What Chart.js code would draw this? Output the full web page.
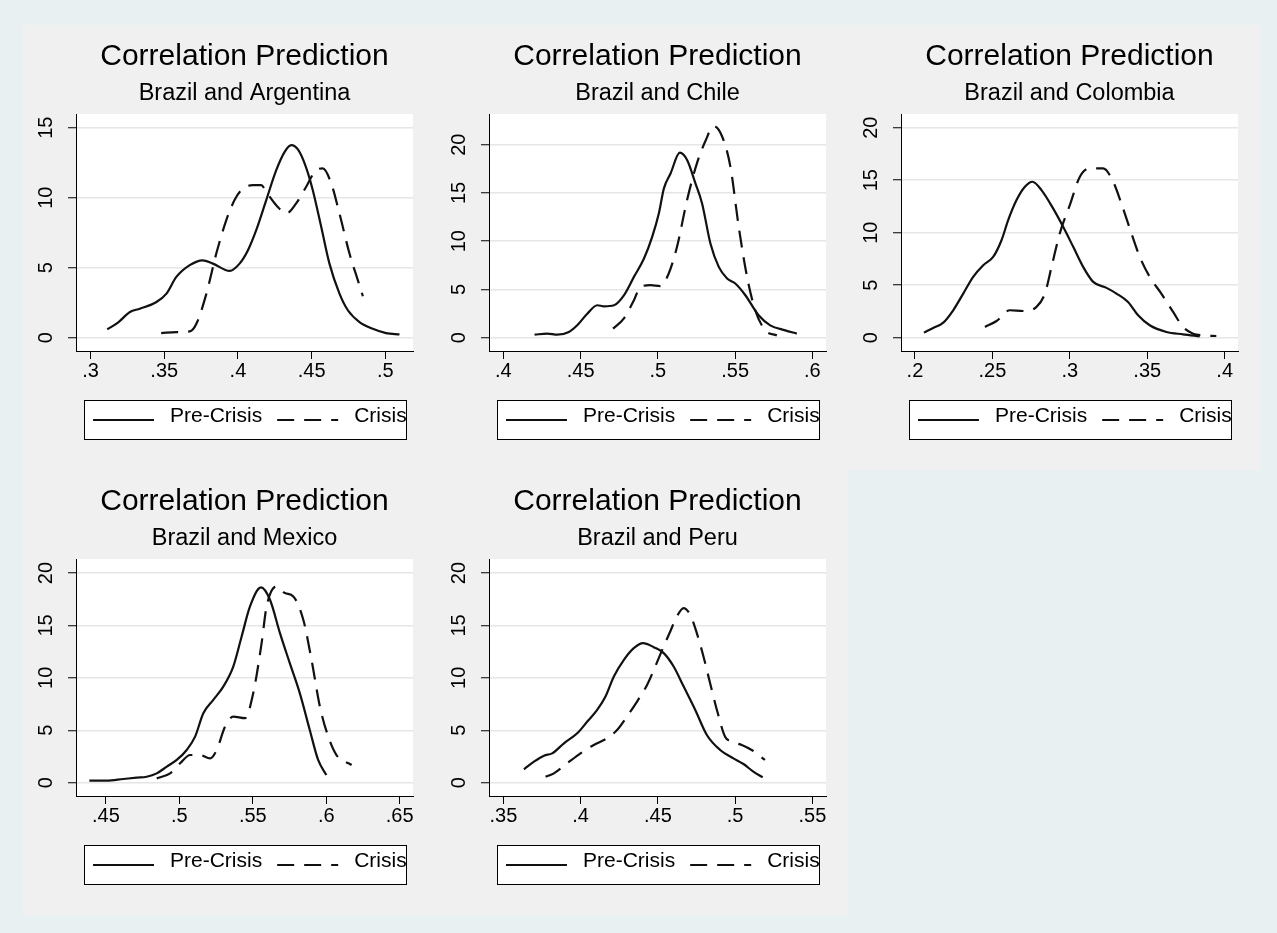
<!DOCTYPE html>
<html>
<head>
<meta charset="utf-8">
<script src="https://cdn.jsdelivr.net/npm/chart.js@4"></script>
<style>
  body { margin: 0; background: #e8f0f2; }
  #wrap { position: relative; width: 1277px; height: 933px; }
  canvas { position: absolute; background: #f0f0f0; }
</style>
</head>
<body>
<div id="wrap">
  <canvas id="arg" width="413" height="445" style="left:22px;top:25px"></canvas>
  <canvas id="chl" width="413" height="445" style="left:435px;top:25px"></canvas>
  <canvas id="col" width="413" height="445" style="left:847px;top:25px"></canvas>
  <canvas id="mex" width="413" height="445" style="left:22px;top:470px"></canvas>
  <canvas id="per" width="413" height="445" style="left:435px;top:470px"></canvas>
</div>
<script>
// Kernel densities of the predicted correlation, Brazil against each neighbour
const panelTitle = 'Correlation Prediction'
const seriesNames = ['Pre-Crisis', 'Crisis']

// Brazil and Argentina
const argPreX = [0.3113, 0.3188, 0.3267, 0.3334, 0.3447, 0.3515, 0.3582, 0.3673, 0.3759, 0.3831, 0.3944, 0.4011, 0.4068, 0.4124, 0.4192, 0.4260, 0.4317, 0.4362, 0.4407, 0.4461, 0.4508, 0.4565, 0.4621, 0.4689, 0.4746, 0.4825, 0.4915, 0.5005, 0.5096]
const argPreY = [0.6, 1.1, 1.84, 2.07, 2.55, 3.15, 4.34, 5.18, 5.53, 5.29, 4.77, 5.29, 6.25, 7.68, 9.83, 11.97, 13.28, 13.76, 13.45, 12.21, 10.54, 7.92, 5.29, 3.15, 1.96, 1.12, 0.64, 0.33, 0.24]
const argCriX = [0.3479, 0.3582, 0.3673, 0.3718, 0.3786, 0.3853, 0.3921, 0.3977, 0.4023, 0.4102, 0.4158, 0.4192, 0.4260, 0.4328, 0.4395, 0.4463, 0.4531, 0.4576, 0.4633, 0.4689, 0.4757, 0.4814, 0.4848]
const argCriY = [0.33, 0.4, 0.45, 1.0, 3.15, 6.01, 8.4, 9.83, 10.54, 10.9, 10.9, 10.42, 9.47, 8.87, 9.59, 10.78, 11.97, 12.09, 11.02, 8.87, 6.01, 4.1, 2.96]
const argXTicks = [0.3, 0.35, 0.4, 0.45, 0.5]
const argXLabels = ['.3', '.35', '.4', '.45', '.5']
const argYTicks = [0, 5, 10, 15]

// Brazil and Chile
const chlPreX = [0.4202, 0.4284, 0.4349, 0.4424, 0.4478, 0.4543, 0.4608, 0.4651, 0.4716, 0.4780, 0.4845, 0.4910, 0.4963, 0.5006, 0.5039, 0.5082, 0.5142, 0.5189, 0.5243, 0.5286, 0.5340, 0.5394, 0.5448, 0.5501, 0.5566, 0.5652, 0.5727, 0.5824, 0.5899]
const chlPreY = [0.31, 0.42, 0.31, 0.59, 1.28, 2.49, 3.36, 3.25, 3.36, 4.39, 6.3, 8.2, 10.45, 12.87, 15.47, 17.02, 19.17, 18.41, 15.99, 13.91, 9.76, 7.34, 6.13, 5.61, 4.4, 2.32, 1.28, 0.76, 0.42]
const chlCriX = [0.4710, 0.4779, 0.4845, 0.4887, 0.4952, 0.5016, 0.5070, 0.5124, 0.5189, 0.5253, 0.5307, 0.5361, 0.5415, 0.5469, 0.5523, 0.5577, 0.5630, 0.5695, 0.5770]
const chlCriY = [0.94, 1.98, 3.88, 5.27, 5.44, 5.34, 6.65, 9.43, 14.28, 18.09, 20.35, 21.91, 20.87, 17.75, 11.51, 6.31, 2.84, 0.76, 0.24]
const chlXTicks = [0.4, 0.45, 0.5, 0.55, 0.6]
const chlXLabels = ['.4', '.45', '.5', '.55', '.6']
const chlYTicks = [0, 5, 10, 15, 20]

// Brazil and Colombia
const colPreX = [0.2058, 0.2118, 0.2183, 0.2247, 0.2312, 0.2376, 0.2441, 0.2505, 0.2559, 0.2602, 0.2656, 0.2710, 0.2759, 0.2817, 0.2892, 0.2957, 0.3022, 0.3086, 0.3151, 0.3237, 0.3301, 0.3376, 0.3441, 0.3516, 0.3624, 0.3731, 0.3839]
const colPreY = [0.48, 0.92, 1.43, 2.61, 4.2, 5.79, 6.9, 7.69, 9.28, 11.19, 13.1, 14.37, 14.85, 14.05, 12.31, 10.56, 8.65, 6.74, 5.31, 4.74, 4.2, 3.4, 2.13, 1.18, 0.54, 0.32, 0.13]
const colCriX = [0.2452, 0.2527, 0.2613, 0.2699, 0.2785, 0.2839, 0.2882, 0.2935, 0.3000, 0.3065, 0.3129, 0.3215, 0.3280, 0.3333, 0.3398, 0.3452, 0.3516, 0.3591, 0.3667, 0.3731, 0.3796, 0.3860, 0.3946]
const colCriY = [1.02, 1.59, 2.61, 2.54, 2.93, 4.2, 6.74, 9.92, 12.62, 15.33, 16.12, 16.12, 14.85, 12.78, 9.92, 7.69, 5.79, 4.2, 2.45, 1.02, 0.38, 0.22, 0.16]
const colXTicks = [0.2, 0.25, 0.3, 0.35, 0.4]
const colXLabels = ['.2', '.25', '.3', '.35', '.4']
const colYTicks = [0, 5, 10, 15, 20]

// Brazil and Mexico
const mexPreX = [0.4387, 0.4505, 0.4618, 0.4709, 0.4777, 0.4846, 0.4914, 0.4982, 0.5050, 0.5107, 0.5163, 0.5231, 0.5299, 0.5367, 0.5424, 0.5481, 0.5556, 0.5617, 0.5685, 0.5752, 0.5820, 0.5888, 0.5945, 0.6001]
const mexPreY = [0.19, 0.19, 0.35, 0.48, 0.57, 0.89, 1.53, 2.17, 3.12, 4.39, 6.62, 7.9, 9.17, 11.08, 13.95, 16.82, 18.63, 17.45, 14.27, 11.4, 8.54, 5.03, 2.17, 0.73]
const mexCriX = [0.4846, 0.4937, 0.5005, 0.5073, 0.5141, 0.5209, 0.5254, 0.5311, 0.5367, 0.5447, 0.5503, 0.5560, 0.5594, 0.5662, 0.5719, 0.5776, 0.5844, 0.5900, 0.5957, 0.6014, 0.6070, 0.6173]
const mexCriY = [0.41, 0.89, 1.85, 2.64, 2.64, 2.32, 3.12, 5.35, 6.31, 6.15, 8.54, 13.31, 16.82, 18.73, 18.09, 17.77, 15.54, 11.72, 7.26, 4.39, 2.64, 1.69]
const mexXTicks = [0.45, 0.5, 0.55, 0.6, 0.65]
const mexXLabels = ['.45', '.5', '.55', '.6', '.65']
const mexYTicks = [0, 5, 10, 15, 20]

// Brazil and Peru
const perPreX = [0.3633, 0.3698, 0.3763, 0.3816, 0.3892, 0.3978, 0.4043, 0.4107, 0.4161, 0.4215, 0.4280, 0.4344, 0.4404, 0.4473, 0.4538, 0.4602, 0.4667, 0.4742, 0.4817, 0.4903, 0.4989, 0.5054, 0.5118, 0.5178]
const perPreY = [1.27, 2.01, 2.58, 2.8, 3.76, 4.71, 5.83, 6.94, 8.22, 10.13, 11.72, 12.83, 13.31, 12.93, 12.36, 11.08, 9.17, 6.94, 4.55, 3.12, 2.32, 1.78, 1.05, 0.51]
const perCriX = [0.3773, 0.3827, 0.3913, 0.3999, 0.4085, 0.4171, 0.4236, 0.4300, 0.4365, 0.4430, 0.4483, 0.4537, 0.4580, 0.4623, 0.4666, 0.4709, 0.4752, 0.4795, 0.4838, 0.4882, 0.4935, 0.4978, 0.5043, 0.5107, 0.5193]
const perCriY = [0.57, 0.89, 1.85, 2.8, 3.6, 4.24, 5.03, 6.31, 7.74, 9.33, 11.08, 12.99, 14.43, 15.86, 16.66, 16.02, 14.27, 12.04, 9.49, 6.94, 4.39, 3.92, 3.6, 3.12, 2.17]
const perXTicks = [0.35, 0.4, 0.45, 0.5, 0.55]
const perXLabels = ['.35', '.4', '.45', '.5', '.55']
const perYTicks = [0, 5, 10, 15, 20]

const fontFamily = "'Liberation Sans', Arial, Helvetica, sans-serif"
Chart.defaults.font.family = fontFamily
Chart.defaults.color = '#000'

const toPoints = (xs, ys) => xs.map((x, i) => ({ x: x, y: ys[i] }))

// white plot region
const plotBg = {
    id: 'plotBg',
    beforeDraw(chart) {
        const a = chart.chartArea
        chart.ctx.save()
        chart.ctx.fillStyle = '#fff'
        chart.ctx.fillRect(a.left, a.top, a.width, a.height)
        chart.ctx.restore()
    },
}

// stata style boxed legend under the x axis
const boxLegend = {
    id: 'boxLegend',
    afterDraw(chart) {
        const ctx = chart.ctx
        const a = chart.chartArea
        const top = a.bottom + 49
        const left = a.left + 8
        const w = a.width - 15
        ctx.save()
        ctx.fillStyle = '#fff'
        ctx.fillRect(left, top, w, 39)
        ctx.strokeStyle = '#000'
        ctx.lineWidth = 1
        ctx.strokeRect(left + 0.5, top + 0.5, w, 39)
        ctx.font = '21px ' + fontFamily
        ctx.textBaseline = 'alphabetic'
        let x = left + 9
        chart.data.datasets.forEach((ds) => {
            ctx.beginPath()
            ctx.setLineDash(ds.borderDash || [])
            ctx.lineWidth = ds.borderWidth
            ctx.strokeStyle = ds.borderColor
            ctx.moveTo(x, top + 20)
            ctx.lineTo(x + 61, top + 20)
            ctx.stroke()
            x += 61 + 16
            ctx.fillStyle = '#000'
            ctx.fillText(ds.label, x, top + 22)
            x += ctx.measureText(ds.label).width + 15
        })
        ctx.restore()
    },
}

function makePanel(id, subtitle, pre, cri, xTicks, xLabels, yTicks, xr, yr) {
    return new Chart(document.getElementById(id), {
        type: 'line',
        data: {
            datasets: [
                {
                    label: seriesNames[0],
                    data: pre,
                    borderColor: '#111',
                    borderWidth: 2.2,
                    pointRadius: 0,
                    cubicInterpolationMode: 'monotone',
                },
                {
                    label: seriesNames[1],
                    data: cri,
                    borderColor: '#111',
                    borderWidth: 2.2,
                    borderDash: [17, 10],
                    pointRadius: 0,
                    cubicInterpolationMode: 'monotone',
                },
            ],
        },
        options: {
            responsive: false,
            animation: false,
            layout: { padding: { left: 0, right: 22, top: 0, bottom: 79 } },
            plugins: {
                legend: { display: false },
                tooltip: { enabled: false },
                title: {
                    display: true,
                    fullSize: false,
                    text: panelTitle,
                    font: { size: 30, weight: 'normal' },
                    padding: { top: 14, bottom: 0 },
                },
                subtitle: {
                    display: true,
                    fullSize: false,
                    text: subtitle,
                    font: { size: 23.5, weight: 'normal' },
                    padding: { top: 4, bottom: 6.8 },
                },
            },
            scales: {
                x: {
                    type: 'linear',
                    min: xr[0],
                    max: xr[1],
                    afterBuildTicks: (s) => { s.ticks = xTicks.map((v) => ({ value: v })) },
                    afterFit: (s) => { s.height = 40 },
                    ticks: {
                        callback: (v, i) => xLabels[i],
                        font: { size: 20 },
                        padding: 0,
                        maxRotation: 0,
                        autoSkip: false,
                    },
                    grid: { drawOnChartArea: false, tickLength: 8, tickColor: '#000', tickWidth: 1 },
                    border: { color: '#000', width: 1 },
                },
                y: {
                    type: 'linear',
                    min: yr[0],
                    max: yr[1],
                    afterBuildTicks: (s) => { s.ticks = yTicks.map((v) => ({ value: v })) },
                    afterFit: (s) => { s.width = 54 },
                    ticks: {
                        callback: (v) => String(v),
                        font: { size: 20 },
                        minRotation: 90,
                        maxRotation: 90,
                        crossAlign: 'center',
                        padding: 10,
                        autoSkip: false,
                    },
                    grid: { color: '#e6e6e6', lineWidth: 1.5, tickLength: 8, tickColor: '#000', tickWidth: 1 },
                    border: { color: '#000', width: 1 },
                },
            },
        },
        plugins: [plotBg, boxLegend],
    })
}

makePanel('arg', 'Brazil and Argentina', toPoints(argPreX, argPreY), toPoints(argCriX, argCriY),
    argXTicks, argXLabels, argYTicks, [0.2901, 0.5188], [-0.95, 15.98])
makePanel('chl', 'Brazil and Chile', toPoints(chlPreX, chlPreY), toPoints(chlCriX, chlCriY),
    chlXTicks, chlXLabels, chlYTicks, [0.3907, 0.6088], [-1.38, 23.18])
makePanel('col', 'Brazil and Colombia', toPoints(colPreX, colPreY), toPoints(colCriX, colCriY),
    colXTicks, colXLabels, colYTicks, [0.1910, 0.4086], [-1.27, 21.3])
makePanel('mex', 'Brazil and Mexico', toPoints(mexPreX, mexPreY), toPoints(mexCriX, mexCriY),
    mexXTicks, mexXLabels, mexYTicks, [0.4296, 0.6591], [-1.27, 21.34])
makePanel('per', 'Brazil and Peru', toPoints(perPreX, perPreY), toPoints(perCriX, perCriY),
    perXTicks, perXLabels, perYTicks, [0.3407, 0.5588], [-1.27, 21.34])
</script>
</body>
</html>
